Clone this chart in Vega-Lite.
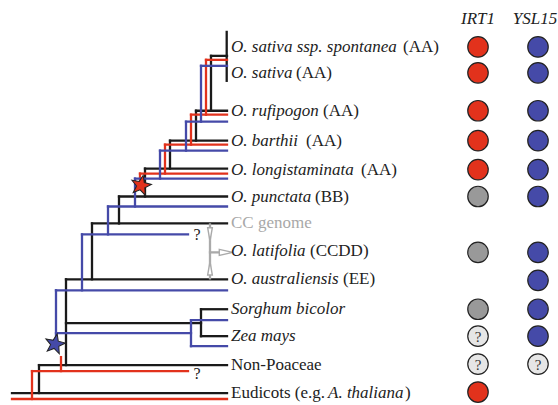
{
  "$schema": "https://vega.github.io/schema/vega-lite/v6.json",
  "width": 558,
  "height": 405,
  "padding": 0,
  "autosize": {"type": "fit", "contains": "padding"},
  "config": {"view": {"stroke": null}},
  "resolve": {"scale": {"color": "independent", "fill": "independent", "shape": "independent"}},
  "datasets": {
    "segments": [
      {"g": "tree", "x": 211, "x2": 227, "y": 56, "y2": 56},
      {"g": "tree", "x": 226.7, "x2": 226.7, "y": 32, "y2": 81},
      {"g": "tree", "x": 211, "x2": 211, "y": 56, "y2": 111},
      {"g": "tree", "x": 196, "x2": 227, "y": 111, "y2": 111},
      {"g": "tree", "x": 196, "x2": 196, "y": 111, "y2": 141},
      {"g": "tree", "x": 170, "x2": 227, "y": 141, "y2": 141},
      {"g": "tree", "x": 170, "x2": 170, "y": 141, "y2": 169},
      {"g": "tree", "x": 145, "x2": 227, "y": 169, "y2": 169},
      {"g": "tree", "x": 145, "x2": 145, "y": 169, "y2": 197},
      {"g": "tree", "x": 119, "x2": 227, "y": 197, "y2": 197},
      {"g": "tree", "x": 119, "x2": 119, "y": 197, "y2": 224},
      {"g": "tree", "x": 92, "x2": 227, "y": 224, "y2": 224},
      {"g": "tree", "x": 92, "x2": 92, "y": 224, "y2": 280},
      {"g": "tree", "x": 66, "x2": 227, "y": 280, "y2": 280},
      {"g": "tree", "x": 66, "x2": 66, "y": 280, "y2": 366},
      {"g": "tree", "x": 66, "x2": 201, "y": 324, "y2": 324},
      {"g": "tree", "x": 201, "x2": 201, "y": 310, "y2": 337},
      {"g": "tree", "x": 201, "x2": 227, "y": 310, "y2": 310},
      {"g": "tree", "x": 201, "x2": 227, "y": 337, "y2": 337},
      {"g": "tree", "x": 39, "x2": 227, "y": 366, "y2": 366},
      {"g": "tree", "x": 39, "x2": 39, "y": 366, "y2": 394},
      {"g": "tree", "x": 12, "x2": 227, "y": 394, "y2": 394},
      {"g": "IRT1", "x": 206, "x2": 227, "y": 60, "y2": 60},
      {"g": "IRT1", "x": 206, "x2": 206, "y": 60, "y2": 115},
      {"g": "IRT1", "x": 191, "x2": 227, "y": 115, "y2": 115},
      {"g": "IRT1", "x": 191, "x2": 191, "y": 115, "y2": 145},
      {"g": "IRT1", "x": 165, "x2": 227, "y": 145, "y2": 145},
      {"g": "IRT1", "x": 165, "x2": 165, "y": 145, "y2": 174},
      {"g": "IRT1", "x": 140, "x2": 227, "y": 174, "y2": 174},
      {"g": "IRT1", "x": 140, "x2": 140, "y": 174, "y2": 186},
      {"g": "IRT1", "x": 61, "x2": 61, "y": 358, "y2": 372},
      {"g": "IRT1", "x": 32, "x2": 188, "y": 372, "y2": 372},
      {"g": "IRT1", "x": 32, "x2": 32, "y": 372, "y2": 400},
      {"g": "IRT1", "x": 12, "x2": 227, "y": 400, "y2": 400},
      {"g": "YSL15", "x": 201, "x2": 227, "y": 66, "y2": 66},
      {"g": "YSL15", "x": 201, "x2": 201, "y": 66, "y2": 122},
      {"g": "YSL15", "x": 186, "x2": 227, "y": 122, "y2": 122},
      {"g": "YSL15", "x": 186, "x2": 186, "y": 122, "y2": 151},
      {"g": "YSL15", "x": 160, "x2": 227, "y": 151, "y2": 151},
      {"g": "YSL15", "x": 160, "x2": 160, "y": 151, "y2": 179},
      {"g": "YSL15", "x": 135, "x2": 227, "y": 179, "y2": 179},
      {"g": "YSL15", "x": 135, "x2": 135, "y": 179, "y2": 207},
      {"g": "YSL15", "x": 108, "x2": 227, "y": 207, "y2": 207},
      {"g": "YSL15", "x": 108, "x2": 108, "y": 207, "y2": 235},
      {"g": "YSL15", "x": 82, "x2": 188, "y": 235, "y2": 235},
      {"g": "YSL15", "x": 82, "x2": 82, "y": 235, "y2": 291},
      {"g": "YSL15", "x": 56, "x2": 227, "y": 291, "y2": 291},
      {"g": "YSL15", "x": 56, "x2": 56, "y": 291, "y2": 340},
      {"g": "YSL15", "x": 56, "x2": 191, "y": 334, "y2": 334},
      {"g": "YSL15", "x": 191, "x2": 191, "y": 321, "y2": 347},
      {"g": "YSL15", "x": 191, "x2": 227, "y": 321, "y2": 321},
      {"g": "YSL15", "x": 191, "x2": 227, "y": 347, "y2": 347},
      {"g": "hybrid", "x": 210, "x2": 210, "y": 225, "y2": 279},
      {"g": "hybrid", "x": 210, "x2": 222, "y": 253, "y2": 253}
    ],
    "arrows": [
      {"dir": "down", "x": 210, "y": 235},
      {"dir": "up", "x": 210, "y": 269},
      {"dir": "right", "x": 226, "y": 253}
    ],
    "stars": [
      {"gene": "IRT1", "x": 141, "y": 186},
      {"gene": "YSL15", "x": 55, "y": 345}
    ],
    "labels": [
      {"text": "O. sativa ssp. spontanea", "style": "italic", "x": 231, "y": 47, "c": "main"},
      {"text": "(AA)", "style": "normal", "x": 403, "y": 47, "c": "main"},
      {"text": "O. sativa", "style": "italic", "x": 231, "y": 73, "c": "main"},
      {"text": "(AA)", "style": "normal", "x": 296, "y": 73, "c": "main"},
      {"text": "O. rufipogon", "style": "italic", "x": 231, "y": 111, "c": "main"},
      {"text": "(AA)", "style": "normal", "x": 323, "y": 111, "c": "main"},
      {"text": "O. barthii", "style": "italic", "x": 231, "y": 141, "c": "main"},
      {"text": "(AA)", "style": "normal", "x": 306, "y": 141, "c": "main"},
      {"text": "O. longistaminata", "style": "italic", "x": 231, "y": 170, "c": "main"},
      {"text": "(AA)", "style": "normal", "x": 361, "y": 170, "c": "main"},
      {"text": "O. punctata", "style": "italic", "x": 231, "y": 197, "c": "main"},
      {"text": "(BB)", "style": "normal", "x": 315, "y": 197, "c": "main"},
      {"text": "CC genome", "style": "normal", "x": 231, "y": 224, "c": "faint"},
      {"text": "O. latifolia", "style": "italic", "x": 231, "y": 252, "c": "main"},
      {"text": "(CCDD)", "style": "normal", "x": 310, "y": 252, "c": "main"},
      {"text": "O. australiensis", "style": "italic", "x": 231, "y": 280, "c": "main"},
      {"text": "(EE)", "style": "normal", "x": 343, "y": 280, "c": "main"},
      {"text": "Sorghum bicolor", "style": "italic", "x": 231, "y": 310, "c": "main"},
      {"text": "Zea mays", "style": "italic", "x": 231, "y": 337, "c": "main"},
      {"text": "Non-Poaceae", "style": "normal", "x": 231, "y": 366, "c": "main"},
      {"text": "Eudicots (e.g.", "style": "normal", "x": 231, "y": 394, "c": "main"},
      {"text": "A. thaliana", "style": "italic", "x": 328, "y": 394, "c": "main"},
      {"text": ")", "style": "normal", "x": 405, "y": 394, "c": "main"}
    ],
    "unknowns": [
      {"x": 197, "y": 236},
      {"x": 197, "y": 375}
    ],
    "headers": [
      {"text": "IRT1", "x": 478, "y": 19},
      {"text": "YSL15", "x": 535, "y": 19}
    ],
    "genes": [
      {"taxon": "O. sativa ssp. spontanea", "gene": "IRT1", "x": 478, "y": 47, "state": "IRT1"},
      {"taxon": "O. sativa ssp. spontanea", "gene": "YSL15", "x": 538, "y": 47, "state": "YSL15"},
      {"taxon": "O. sativa", "gene": "IRT1", "x": 478, "y": 73, "state": "IRT1"},
      {"taxon": "O. sativa", "gene": "YSL15", "x": 538, "y": 73, "state": "YSL15"},
      {"taxon": "O. rufipogon", "gene": "IRT1", "x": 478, "y": 111, "state": "IRT1"},
      {"taxon": "O. rufipogon", "gene": "YSL15", "x": 538, "y": 111, "state": "YSL15"},
      {"taxon": "O. barthii", "gene": "IRT1", "x": 478, "y": 141, "state": "IRT1"},
      {"taxon": "O. barthii", "gene": "YSL15", "x": 538, "y": 141, "state": "YSL15"},
      {"taxon": "O. longistaminata", "gene": "IRT1", "x": 478, "y": 170, "state": "IRT1"},
      {"taxon": "O. longistaminata", "gene": "YSL15", "x": 538, "y": 170, "state": "YSL15"},
      {"taxon": "O. punctata", "gene": "IRT1", "x": 478, "y": 197, "state": "grey"},
      {"taxon": "O. punctata", "gene": "YSL15", "x": 538, "y": 197, "state": "YSL15"},
      {"taxon": "O. latifolia", "gene": "IRT1", "x": 478, "y": 253, "state": "grey"},
      {"taxon": "O. latifolia", "gene": "YSL15", "x": 538, "y": 253, "state": "YSL15"},
      {"taxon": "O. australiensis", "gene": "YSL15", "x": 538, "y": 281, "state": "YSL15"},
      {"taxon": "Sorghum bicolor", "gene": "IRT1", "x": 478, "y": 310, "state": "grey"},
      {"taxon": "Sorghum bicolor", "gene": "YSL15", "x": 538, "y": 310, "state": "YSL15"},
      {"taxon": "Zea mays", "gene": "IRT1", "x": 478, "y": 337, "state": "unknown"},
      {"taxon": "Zea mays", "gene": "YSL15", "x": 538, "y": 337, "state": "YSL15"},
      {"taxon": "Non-Poaceae", "gene": "IRT1", "x": 478, "y": 365, "state": "unknown"},
      {"taxon": "Non-Poaceae", "gene": "YSL15", "x": 538, "y": 365, "state": "unknown"},
      {"taxon": "Eudicots", "gene": "IRT1", "x": 478, "y": 393, "state": "IRT1"}
    ]
  },
  "encoding": {
    "x": {"field": "x", "type": "quantitative", "axis": null, "scale": {"domain": [0, 558], "nice": false, "zero": false}},
    "y": {"field": "y", "type": "quantitative", "axis": null, "scale": {"domain": [0, 405], "nice": false, "zero": false, "reverse": true}}
  },
  "layer": [
    {
      "data": {"name": "segments"},
      "mark": {"type": "rule", "strokeWidth": 2.3, "strokeCap": "square"},
      "encoding": {
        "x2": {"field": "x2"},
        "y2": {"field": "y2"},
        "color": {"field": "g", "type": "nominal", "legend": null,
          "scale": {"domain": ["tree", "IRT1", "YSL15", "hybrid"], "range": ["#1a1a1a", "#e2321c", "#454aa8", "#aaaaaa"]}}
      }
    },
    {
      "data": {"name": "arrows"},
      "mark": {"type": "point", "filled": true, "fill": "white", "stroke": "#aaaaaa", "strokeWidth": 1.4, "opacity": 1},
      "encoding": {
        "shape": {"field": "dir", "type": "nominal", "legend": null,
          "scale": {"domain": ["down", "up", "right"], "range": ["M-0.35,-1L0.35,-1L0,1Z", "M-0.35,1L0.35,1L0,-1Z", "M-1,-0.45L1,0L-1,0.45Z"]}},
        "size": {"value": 180}
      }
    },
    {
      "data": {"name": "stars"},
      "mark": {"type": "point", "filled": true, "stroke": "#222222", "strokeWidth": 1, "opacity": 1, "angle": 12,
        "shape": "M0,-1L0.247,-0.34L0.951,-0.309L0.399,0.13L0.588,0.809L0,0.42L-0.588,0.809L-0.399,0.13L-0.951,-0.309L-0.247,-0.34Z"},
      "encoding": {
        "fill": {"field": "gene", "type": "nominal", "legend": null,
          "scale": {"domain": ["IRT1", "YSL15"], "range": ["#e2321c", "#454aa8"]}},
        "size": {"value": 440}
      }
    },
    {
      "data": {"name": "labels"},
      "transform": [{"filter": "datum.style === 'italic'"}],
      "mark": {"type": "text", "align": "left", "baseline": "middle", "font": "Liberation Serif", "fontSize": 17, "fontStyle": "italic"},
      "encoding": {
        "text": {"field": "text"},
        "color": {"field": "c", "type": "nominal", "legend": null, "scale": {"domain": ["main", "faint"], "range": ["#222222", "#a8a8a8"]}}
      }
    },
    {
      "data": {"name": "labels"},
      "transform": [{"filter": "datum.style === 'normal'"}],
      "mark": {"type": "text", "align": "left", "baseline": "middle", "font": "Liberation Serif", "fontSize": 17},
      "encoding": {
        "text": {"field": "text"},
        "color": {"field": "c", "type": "nominal", "legend": null, "scale": {"domain": ["main", "faint"], "range": ["#222222", "#a8a8a8"]}}
      }
    },
    {
      "data": {"name": "unknowns"},
      "mark": {"type": "text", "align": "center", "baseline": "middle", "font": "Liberation Serif", "fontSize": 16, "color": "#222222"},
      "encoding": {"text": {"value": "?"}}
    },
    {
      "data": {"name": "headers"},
      "mark": {"type": "text", "align": "center", "baseline": "middle", "font": "Liberation Serif", "fontSize": 17, "fontStyle": "italic", "color": "#222222"},
      "encoding": {"text": {"field": "text"}}
    },
    {
      "data": {"name": "genes"},
      "mark": {"type": "point", "shape": "circle", "filled": true, "stroke": "#222222", "strokeWidth": 1.2, "opacity": 1},
      "encoding": {
        "size": {"value": 420},
        "fill": {"field": "state", "type": "nominal", "legend": null,
          "scale": {"domain": ["IRT1", "YSL15", "grey", "unknown"], "range": ["#e2321c", "#454aa8", "#999999", "#e6e6e6"]}}
      }
    },
    {
      "data": {"name": "genes"},
      "transform": [{"filter": "datum.state === 'unknown'"}],
      "mark": {"type": "text", "align": "center", "baseline": "middle", "font": "Liberation Serif", "fontSize": 15, "color": "#333333", "dy": 1},
      "encoding": {"text": {"value": "?"}}
    }
  ]
}
